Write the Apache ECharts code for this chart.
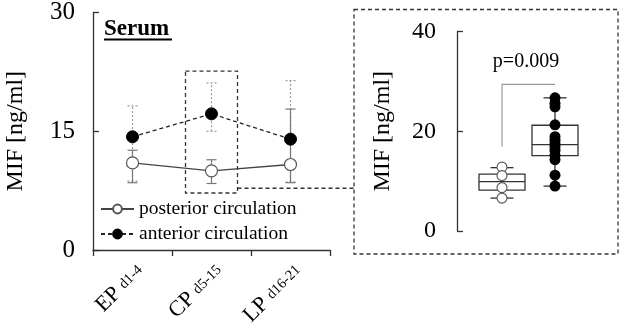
<!DOCTYPE html>
<html>
<head>
<meta charset="utf-8">
<script src="https://cdn.jsdelivr.net/npm/echarts@6/dist/echarts.min.js"></script>
<style>
  html, body { margin: 0; padding: 0; background: #fff; }
  #main { width: 624px; height: 329px; }
</style>
</head>
<body>
<div id="main"></div>
<script>
// time course (left panel)
var categories = ['EP', 'CP', 'LP'];
var subLabels = ['d1-4', 'd5-15', 'd16-21'];
var posteriorMean = [11.0, 10.0, 10.8];
var posteriorLow = [8.5, 8.4, 8.5];
var posteriorHigh = [12.6, 11.4, 17.8];
var anteriorMean = [14.3, 17.2, 14.0];
var anteriorLow = [8.7, 15.0, 8.6];
var anteriorHigh = [18.2, 21.1, 21.4];
var leftTicks = [0, 15, 30];

// CP box plot (inset)
var groups = ['posterior', 'anterior'];
var posteriorBox = [6.6, 8.2, 9.9, 11.4, 12.7];   // min, q1, median, q3, max
var anteriorBox = [9.0, 15.1, 17.3, 21.2, 26.7];
var posteriorPoints = [12.8, 11.1, 8.7, 6.6];
var anteriorPoints = [26.7, 25.6, 24.9, 21.3, 18.9, 18.2, 17.5, 16.9, 16.2, 15.2, 14.3, 11.2, 9.0];
var insetTicks = [0, 20, 40];
var pText = 'p=0.009';
var bracket = [[0, 16.9], [0, 29.4], [1, 29.4]];

var serif = 'Liberation Serif';
var chart = echarts.init(document.getElementById('main'), null, { renderer: 'canvas' });

function errorBars(low, high) {
  return categories.map(function (c, i) { return [i, low[i], high[i]]; });
}

function errorRender(color, dash) {
  return function (params, api) {
    var lo = api.coord([api.value(0), api.value(1)]);
    var hi = api.coord([api.value(0), api.value(2)]);
    var hw = 5;
    var style = { stroke: color, lineWidth: 1.2, lineDash: dash };
    return {
      type: 'group',
      children: [
        { type: 'line', shape: { x1: lo[0], y1: lo[1], x2: hi[0], y2: hi[1] }, style: style },
        { type: 'line', shape: { x1: lo[0] - hw, y1: lo[1], x2: lo[0] + hw, y2: lo[1] }, style: style },
        { type: 'line', shape: { x1: hi[0] - hw, y1: hi[1], x2: hi[0] + hw, y2: hi[1] }, style: style }
      ]
    };
  };
}

function boxRender(params, api) {
  var x = api.value(0);
  var pMin = api.coord([x, api.value(1)]);
  var pQ1 = api.coord([x, api.value(2)]);
  var pMed = api.coord([x, api.value(3)]);
  var pQ3 = api.coord([x, api.value(4)]);
  var pMax = api.coord([x, api.value(5)]);
  var half = 23, cap = 11.5;
  var style = { stroke: '#333', lineWidth: 1.3, fill: null };
  return {
    type: 'group',
    children: [
      { type: 'line', shape: { x1: pMin[0], y1: pMin[1], x2: pQ1[0], y2: pQ1[1] }, style: style },
      { type: 'line', shape: { x1: pQ3[0], y1: pQ3[1], x2: pMax[0], y2: pMax[1] }, style: style },
      { type: 'line', shape: { x1: pMin[0] - cap, y1: pMin[1], x2: pMin[0] + cap, y2: pMin[1] }, style: style },
      { type: 'line', shape: { x1: pMax[0] - cap, y1: pMax[1], x2: pMax[0] + cap, y2: pMax[1] }, style: style },
      { type: 'rect', shape: { x: pQ3[0] - half, y: pQ3[1], width: half * 2, height: pQ1[1] - pQ3[1] }, style: { stroke: '#333', lineWidth: 1.3, fill: '#fff' } },
      { type: 'line', shape: { x1: pMed[0] - half, y1: pMed[1], x2: pMed[0] + half, y2: pMed[1] }, style: style }
    ]
  };
}

chart.setOption({
  animation: false,
  grid: [
    { left: 93, top: 12, width: 237, height: 238 },
    { left: 475.5, top: 31.5, width: 106, height: 199.5 }
  ],
  legend: {
    data: ['posterior circulation', 'anterior circulation'],
    orient: 'vertical',
    left: 95,
    top: 194,
    itemWidth: 33,
    itemHeight: 11,
    itemGap: 5,
    textStyle: { fontFamily: serif, fontSize: 19.5, color: '#000' }
  },
  xAxis: [{
    gridIndex: 0,
    type: 'category',
    data: categories,
    axisLine: { lineStyle: { color: '#333', width: 1.3 } },
    axisTick: { show: true, inside: false, length: 6, lineStyle: { color: '#333', width: 1.3 } },
    axisLabel: {
      rotate: 45,
      margin: 10,
      verticalAlign: 'top',
      formatter: function (v, i) { return v + ' {s|' + subLabels[i] + '}'; },
      fontFamily: serif, fontSize: 22, color: '#000',
      rich: { s: { fontFamily: serif, fontSize: 14.5, color: '#000' } }
    }
  }, {
    gridIndex: 1,
    type: 'category',
    data: groups,
    show: false
  }],
  yAxis: [{
    gridIndex: 0,
    type: 'value',
    min: leftTicks[0], max: leftTicks[2], interval: 15,
    name: 'MIF [ng/ml]',
    nameLocation: 'middle',
    nameGap: 65,
    nameTextStyle: { fontFamily: serif, fontSize: 24, color: '#000' },
    axisLine: { show: true, lineStyle: { color: '#333', width: 1.3 } },
    axisTick: { show: true, inside: true, length: 6, lineStyle: { color: '#333', width: 1.3 } },
    axisLabel: { margin: 18, fontFamily: serif, fontSize: 25, color: '#000' },
    splitLine: { show: false }
  }, {
    gridIndex: 1,
    type: 'value',
    min: insetTicks[0], max: insetTicks[2], interval: 20,
    offset: 18.5,
    name: 'MIF [ng/ml]',
    nameLocation: 'middle',
    nameGap: 62,
    nameTextStyle: { fontFamily: serif, fontSize: 24, color: '#000' },
    axisLine: { show: true, lineStyle: { color: '#333', width: 1.3 } },
    axisTick: { show: true, inside: true, length: 6, lineStyle: { color: '#333', width: 1.3 } },
    axisLabel: { margin: 21, fontFamily: serif, fontSize: 24, color: '#000' },
    splitLine: { show: false }
  }],
  series: [
    {
      type: 'custom', xAxisIndex: 0, yAxisIndex: 0, z: 1,
      data: errorBars(anteriorLow, anteriorHigh),
      renderItem: errorRender('#9a9a9a', [2, 2])
    },
    {
      type: 'custom', xAxisIndex: 0, yAxisIndex: 0, z: 1,
      data: errorBars(posteriorLow, posteriorHigh),
      renderItem: errorRender('#777', null)
    },
    {
      name: 'posterior circulation', type: 'line', xAxisIndex: 0, yAxisIndex: 0, z: 3,
      data: posteriorMean,
      symbol: 'circle', symbolSize: 12,
      lineStyle: { color: '#444', width: 1.3 },
      itemStyle: { color: '#fff', borderColor: '#555', borderWidth: 1.2 }
    },
    {
      name: 'anterior circulation', type: 'line', xAxisIndex: 0, yAxisIndex: 0, z: 3,
      data: anteriorMean,
      symbol: 'circle', symbolSize: 12,
      lineStyle: { color: '#222', width: 1.3, type: [4, 3] },
      itemStyle: { color: '#000', borderColor: '#000', borderWidth: 1 }
    },
    {
      type: 'line', xAxisIndex: 1, yAxisIndex: 1, z: 1,
      data: bracket, symbol: 'none',
      lineStyle: { color: '#999', width: 1.2 }
    },
    {
      type: 'custom', xAxisIndex: 1, yAxisIndex: 1, z: 2,
      data: [[0].concat(posteriorBox), [1].concat(anteriorBox)],
      renderItem: boxRender
    },
    {
      type: 'scatter', xAxisIndex: 1, yAxisIndex: 1, z: 4,
      data: posteriorPoints.map(function (v) { return [0, v]; }),
      symbolSize: 10,
      itemStyle: { color: '#fff', borderColor: '#555', borderWidth: 1.1, opacity: 1 }
    },
    {
      type: 'scatter', xAxisIndex: 1, yAxisIndex: 1, z: 4,
      data: anteriorPoints.map(function (v) { return [1, v]; }),
      symbolSize: 11,
      itemStyle: { color: '#000', opacity: 1 }
    }
  ]
});

// annotations: title, zoom box, connector, inset frame, p-value
var boxTL = chart.convertToPixel({ xAxisIndex: 0, yAxisIndex: 0 }, [1, 22.6]);
var boxBR = chart.convertToPixel({ xAxisIndex: 0, yAxisIndex: 0 }, [1, 7.2]);
var connY = chart.convertToPixel({ xAxisIndex: 0, yAxisIndex: 0 }, [1, 7.8])[1];
var pPos = chart.convertToPixel({ xAxisIndex: 1, yAxisIndex: 1 }, [0, 33.9]);
var dashed = { stroke: '#333', lineWidth: 1.3, lineDash: [4, 3], fill: null };

chart.setOption({
  graphic: [
    { type: 'text', left: 104, top: 18, style: { text: 'Serum', fontFamily: serif, fontWeight: 'bold', fontSize: 23, fill: '#000' } },
    { type: 'line', shape: { x1: 104, y1: 39.5, x2: 172, y2: 39.5 }, style: { stroke: '#000', lineWidth: 1.8 } },
    { type: 'rect', shape: { x: boxTL[0] - 26, y: boxTL[1], width: 52, height: boxBR[1] - boxTL[1] }, style: dashed },
    { type: 'line', shape: { x1: boxTL[0] + 26, y1: connY, x2: 354, y2: connY }, style: dashed },
    { type: 'rect', shape: { x: 354, y: 9.5, width: 264, height: 244.5 }, style: dashed },
    { type: 'text', x: pPos[0] + 24, y: pPos[1], style: { text: pText, fontFamily: serif, fontSize: 20, fill: '#000', align: 'center', verticalAlign: 'middle' } }
  ]
});
</script>
</body>
</html>
